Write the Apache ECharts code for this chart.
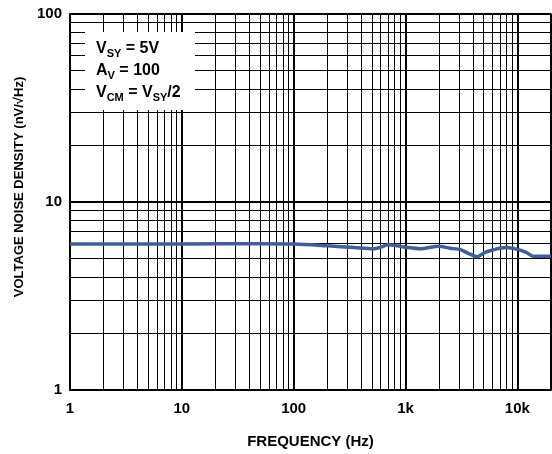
<!DOCTYPE html>
<html>
<head>
<meta charset="utf-8">
<script src="https://cdn.jsdelivr.net/npm/echarts@6/dist/echarts.min.js"></script>
<style>
html, body { margin: 0; padding: 0; background: #fff; }
#chart { width: 552px; height: 454px; }
</style>
</head>
<body>
<div id="chart"></div>
<script>
// noise density curve
var freqs = [1, 10, 50, 100, 200, 350, 520, 600, 700, 850, 1000, 1350, 1980, 2500, 3100, 3600, 4400, 5000, 5800, 8000, 10000, 12000, 14000, 20000];
var noise = [5.98, 5.98, 6.0, 5.98, 5.85, 5.72, 5.64, 5.75, 5.93, 5.85, 5.75, 5.64, 5.82, 5.68, 5.58, 5.35, 5.12, 5.35, 5.52, 5.72, 5.6, 5.4, 5.14, 5.14];

// minor grid lines between the decades
var xMinor = [2, 3, 4, 5, 6, 7, 8, 9, 20, 30, 40, 50, 60, 70, 80, 90, 200, 300, 400, 500, 600, 700, 800, 900, 2000, 3000, 4000, 5000, 6000, 7000, 8000, 9000];
var yMinor = [2, 3, 4, 5, 6, 7, 8, 9, 20, 30, 40, 50, 60, 70, 80, 90];
var xLabels = {1: '1', 10: '10', 100: '100', 1000: '1k', 10000: '10k'};

var font = '"Liberation Sans", Arial, sans-serif';

var lineData = [];
for (var i = 0; i < freqs.length; i++) {
    lineData.push([freqs[i], noise[i]]);
}

var minorLines = [];
for (var i = 0; i < xMinor.length; i++) {
    minorLines.push({ xAxis: xMinor[i] });
}
for (var i = 0; i < yMinor.length; i++) {
    minorLines.push({ yAxis: yMinor[i] });
}

var myChart = echarts.init(document.getElementById('chart'));

var option = {
    animation: false,
    grid: {
        left: 70,
        right: 1,
        top: 14,
        bottom: 58,
        show: true,
        borderColor: '#000',
        borderWidth: 1.5,
        backgroundColor: 'transparent'
    },
    xAxis: {
        type: 'log',
        logBase: 10,
        min: 1,
        max: 20000,
        name: 'FREQUENCY (Hz)',
        nameLocation: 'middle',
        nameGap: 44,
        nameTextStyle: { color: '#000', fontFamily: font, fontWeight: 'bold', fontSize: 15 },
        axisLine: { show: true, lineStyle: { color: '#000', width: 1.5 } },
        axisTick: { show: false },
        axisLabel: {
            color: '#000',
            fontFamily: font,
            fontWeight: 'bold',
            fontSize: 15,
            margin: 11,
            showMaxLabel: false,
            formatter: function (v) {
                return xLabels[v] !== undefined ? xLabels[v] : '';
            }
        },
        splitLine: { show: true, lineStyle: { color: '#000', width: 2 } }
    },
    yAxis: {
        type: 'log',
        logBase: 10,
        min: 1,
        max: 100,
        name: 'VOLTAGE NOISE DENSITY (nV/\u221AHz)',
        nameLocation: 'middle',
        nameGap: 37,
        nameTextStyle: { color: '#000', fontFamily: font, fontWeight: 'bold', fontSize: 13, padding: [0, 0, 0, 30] },
        axisLine: { show: true, lineStyle: { color: '#000', width: 1.5 } },
        axisTick: { show: false },
        axisLabel: {
            color: '#000',
            fontFamily: font,
            fontWeight: 'bold',
            fontSize: 15,
            margin: 8
        },
        splitLine: { show: true, lineStyle: { color: '#000', width: 2 } }
    },
    graphic: [
        {
            type: 'rect',
            left: 85,
            top: 32,
            z: 10,
            shape: { width: 110, height: 78 },
            style: { fill: '#fff' }
        },
        {
            type: 'text',
            left: 96,
            top: 39,
            z: 11,
            style: {
                text: '{b|V}{s|SY}{b| = 5V}\n{b|A}{s|V}{b| = 100}\n{b|V}{s|CM}{b| = V}{s|SY}{b|/2}',
                rich: {
                    b: { fontFamily: font, fontWeight: 'bold', fontSize: 16, fill: '#000', lineHeight: 22 },
                    s: { fontFamily: font, fontWeight: 'bold', fontSize: 11, fill: '#000', lineHeight: 22, padding: [9, 0, 0, 0] }
                }
            }
        }
    ],
    series: [
        {
            type: 'line',
            data: lineData,
            smooth: 0.3,
            showSymbol: false,
            z: 5,
            lineStyle: { color: '#3b5fa0', width: 3.5 },
            markLine: {
                silent: true,
                symbol: 'none',
                label: { show: false },
                animation: false,
                lineStyle: { color: '#000', width: 1, type: 'solid' },
                data: minorLines
            }
        }
    ]
};

myChart.setOption(option);
</script>
</body>
</html>
